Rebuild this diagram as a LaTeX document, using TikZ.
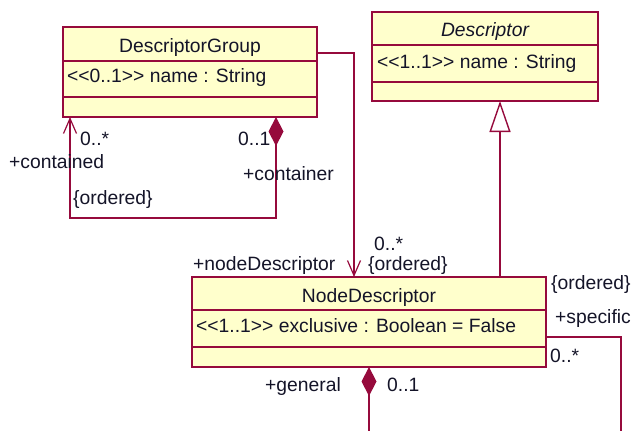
\documentclass[tikz,border=0pt]{standalone}
\usepackage{fontspec}
\setmainfont{Liberation Sans}
\usetikzlibrary{arrows.meta}
\definecolor{umlline}{RGB}{150,10,60}
\definecolor{umlfill}{RGB}{255,255,204}
\definecolor{umltext}{RGB}{20,20,40}
\tikzset{
  x=1pt, y=-1pt,
  classbox/.style={draw=umlline, fill=umlfill, line width=1.4pt},
  divider/.style={draw=umlline, line width=1.4pt},
  conn/.style={draw=umlline, line width=1.4pt},
  txt/.style={inner sep=0pt, text=umltext, font=\fontsize{19.3}{22}\selectfont},
  lbl/.style={txt, anchor=base west},
  navarrow/.style={-{Straight Barb[length=15pt,width=13pt,line width=1.2pt]}},
  genarrow/.style={-{Triangle[open,length=31pt,width=21pt,line width=1.4pt,fill=white]}},
  compos/.style={{Diamond[length=29pt,width=15pt,fill=umlline]}-},
  composnav/.style={{Diamond[length=29pt,width=15pt,fill=umlline]}-{Straight Barb[length=15pt,width=13pt,line width=1.2pt]}},
}
\begin{document}
\begin{tikzpicture}
\useasboundingbox (0,0) rectangle (634,431);

% ---- class DescriptorGroup ----
\path[classbox] (63,27) rectangle (317,117);
\draw[divider] (63,61) -- (317,61);
\draw[divider] (63,97) -- (317,97);
\node[txt, anchor=base] (dgname) at (190,52) {DescriptorGroup};
\node[lbl] (dgattr) at (67,82) {<{}<0..1>{}> name : String};
\coordinate (dgR) at (317,53);
\coordinate (dgBL) at (70,117);
\coordinate (dgBR) at (276,117);
\coordinate (loopBL) at (70,218);

% ---- class Descriptor ----
\path[classbox] (372,12) rectangle (598,101);
\draw[divider] (372,45) -- (598,45);
\draw[divider] (372,82) -- (598,82);
\node[txt, anchor=base, font=\fontsize{19.3}{22}\selectfont\itshape] (dname) at (485,36) {Descriptor};
\node[lbl] (dattr) at (377,68) {<{}<1..1>{}> name : String};
\coordinate (dB) at (500,101);

% ---- class NodeDescriptor ----
\path[classbox] (192,277) rectangle (546,367);
\draw[divider] (192,310) -- (546,310);
\draw[divider] (192,347) -- (546,347);
\node[txt, anchor=base] (ndname) at (369,302) {NodeDescriptor};
\node[lbl] (ndattr) at (196,332) {<{}<1..1>{}> exclusive : Boolean = False};
\coordinate (ndT1) at (354,277);
\coordinate (ndT2) at (500,277);
\coordinate (ndR) at (546,337);
\coordinate (ndB) at (369,367);

% ---- connector ends leaving the frame ----
\coordinate (specEnd) at (621,431);
\coordinate (genEnd) at (369,431);

% ---- associations ----
\draw[conn, navarrow] (dgR) -| (ndT1);
\draw[conn, composnav] (dgBR) |- (loopBL) -- (dgBL);
\draw[conn, genarrow] (ndT2) -- (dB);
\draw[conn] (ndR) -| (specEnd);
\draw[conn, compos] (ndB) -- (genEnd);

% ---- association end labels ----
\node[lbl] (l1) at (80,145) {0..*};
\node[lbl] (l2) at (9,168) {+contained};
\node[lbl] (l3) at (73,204) {\{ordered\}};
\node[lbl] (l4) at (238,145) {0..1};
\node[lbl] (l5) at (243,180) {+container};
\node[lbl] (l6) at (193,270) {+nodeDescriptor};
\node[lbl] (l7) at (374,250) {0..*};
\node[lbl] (l8) at (368,270) {\{ordered\}};
\node[lbl] (l9) at (551,289) {\{ordered\}};
\node[lbl] (l10) at (555,323) {+specific};
\node[lbl] (l11) at (550,362) {0..*};
\node[lbl] (l12) at (265,391) {+general};
\node[lbl] (l13) at (387,391) {0..1};
\end{tikzpicture}
\end{document}
